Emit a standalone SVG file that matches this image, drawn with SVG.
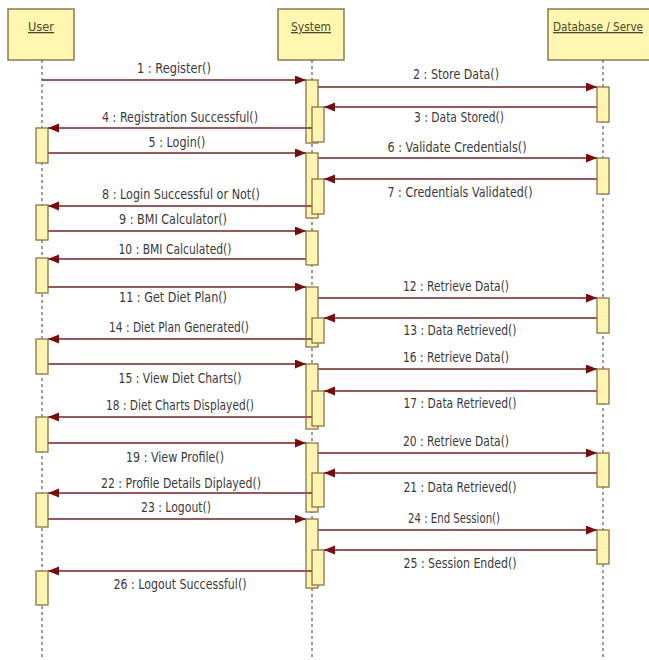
<svg xmlns="http://www.w3.org/2000/svg" width="649" height="660" viewBox="0 0 649 660">
  <style>
    .head { fill: #fff6b0; stroke: #8a7a55; stroke-width: 1.5; }
    .act { fill: #fff5b0; stroke: #8a7445; stroke-width: 1.3; }
    .life { stroke: #3a3a3a; stroke-width: 1; stroke-dasharray: 3 3; fill: none; }
    .msg { stroke: #9a5858; stroke-width: 1.8; fill: none; marker-end: url(#arrow); }
    .lbl { font-family: "DejaVu Sans", "Liberation Sans", sans-serif; font-size: 13.5px; fill: #3a3a3a; text-anchor: middle; }
    .hd { font-family: "DejaVu Sans", "Liberation Sans", sans-serif; font-size: 13px; fill: #4a4a30; text-decoration: underline; }
  </style>
  <defs>
    <marker id="arrow" markerUnits="userSpaceOnUse" markerWidth="12" markerHeight="10" refX="11" refY="4.5" orient="auto">
      <path d="M0,0 L11,4.5 L0,9 Z" fill="#7d0a0a"/>
    </marker>
  </defs>
  <rect width="649" height="660" fill="#ffffff"/>

  <!-- lifeline heads and dashed lifelines -->
  <g id="user">
    <rect class="head" x="8" y="9" width="66" height="51"/>
    <text class="hd" x="41" y="31" text-anchor="middle" textLength="26" lengthAdjust="spacingAndGlyphs">User</text>
    <line class="life" x1="42" y1="60" x2="42" y2="660"/>
  </g>
  <g id="system">
    <rect class="head" x="278" y="9" width="66" height="51"/>
    <text class="hd" x="311" y="31" text-anchor="middle" textLength="40" lengthAdjust="spacingAndGlyphs">System</text>
    <line class="life" x1="312" y1="60" x2="312" y2="660"/>
  </g>
  <g id="database">
    <rect class="head" x="548" y="9" width="110" height="51"/>
    <text class="hd" x="553" y="31" textLength="90" lengthAdjust="spacingAndGlyphs">Database / Serve</text>
    <line class="life" x1="603" y1="60" x2="603" y2="660"/>
  </g>

  <!-- activation bars -->
  <g id="user-activations">
    <rect class="act" x="36" y="128" width="12" height="35"/>
    <rect class="act" x="36" y="205" width="12" height="35"/>
    <rect class="act" x="36" y="258" width="12" height="35"/>
    <rect class="act" x="36" y="339" width="12" height="35"/>
    <rect class="act" x="36" y="417" width="12" height="35"/>
    <rect class="act" x="36" y="493" width="12" height="34"/>
    <rect class="act" x="36" y="571" width="12" height="34"/>
  </g>
  <g id="system-activations">
    <rect class="act" x="306" y="80" width="12" height="63"/>
    <rect class="act" x="312" y="107" width="12" height="35"/>
    <rect class="act" x="306" y="153" width="12" height="65"/>
    <rect class="act" x="312" y="179" width="12" height="35"/>
    <rect class="act" x="306" y="231" width="12" height="34"/>
    <rect class="act" x="306" y="287" width="12" height="60"/>
    <rect class="act" x="312" y="318" width="12" height="25"/>
    <rect class="act" x="306" y="364" width="12" height="65"/>
    <rect class="act" x="312" y="391" width="12" height="35"/>
    <rect class="act" x="306" y="443" width="12" height="69"/>
    <rect class="act" x="312" y="473" width="12" height="34"/>
    <rect class="act" x="306" y="519" width="12" height="69"/>
    <rect class="act" x="312" y="550" width="12" height="35"/>
  </g>
  <g id="database-activations">
    <rect class="act" x="597" y="87" width="12" height="35"/>
    <rect class="act" x="597" y="158" width="12" height="36"/>
    <rect class="act" x="597" y="298" width="12" height="35"/>
    <rect class="act" x="597" y="369" width="12" height="35"/>
    <rect class="act" x="597" y="453" width="12" height="34"/>
    <rect class="act" x="597" y="530" width="12" height="34"/>
  </g>

  <!-- messages -->
  <g id="connectors">
    <line class="msg" x1="42" y1="80" x2="306" y2="80"/>
    <line class="msg" x1="318" y1="87" x2="597" y2="87"/>
    <line class="msg" x1="597" y1="107" x2="324" y2="107"/>
    <line class="msg" x1="312" y1="128" x2="48" y2="128"/>
    <line class="msg" x1="48" y1="153" x2="306" y2="153"/>
    <line class="msg" x1="318" y1="158" x2="597" y2="158"/>
    <line class="msg" x1="597" y1="179" x2="324" y2="179"/>
    <line class="msg" x1="312" y1="206" x2="48" y2="206"/>
    <line class="msg" x1="48" y1="231" x2="306" y2="231"/>
    <line class="msg" x1="306" y1="259" x2="48" y2="259"/>
    <line class="msg" x1="48" y1="287" x2="306" y2="287"/>
    <line class="msg" x1="318" y1="298" x2="597" y2="298"/>
    <line class="msg" x1="597" y1="318" x2="324" y2="318"/>
    <line class="msg" x1="312" y1="339" x2="48" y2="339"/>
    <line class="msg" x1="48" y1="364" x2="306" y2="364"/>
    <line class="msg" x1="318" y1="369" x2="597" y2="369"/>
    <line class="msg" x1="597" y1="391" x2="324" y2="391"/>
    <line class="msg" x1="312" y1="417" x2="48" y2="417"/>
    <line class="msg" x1="48" y1="443" x2="306" y2="443"/>
    <line class="msg" x1="318" y1="453" x2="597" y2="453"/>
    <line class="msg" x1="597" y1="473" x2="324" y2="473"/>
    <line class="msg" x1="312" y1="493" x2="48" y2="493"/>
    <line class="msg" x1="48" y1="519" x2="306" y2="519"/>
    <line class="msg" x1="318" y1="530" x2="597" y2="530"/>
    <line class="msg" x1="597" y1="550" x2="324" y2="550"/>
    <line class="msg" x1="312" y1="571" x2="48" y2="571"/>
  </g>

  <!-- message labels -->
  <g id="labels">
    <text class="lbl" x="174" y="73" textLength="74" lengthAdjust="spacingAndGlyphs">1 : Register()</text>
    <text class="lbl" x="456" y="79" textLength="86" lengthAdjust="spacingAndGlyphs">2 : Store Data()</text>
    <text class="lbl" x="459" y="122" textLength="90" lengthAdjust="spacingAndGlyphs">3 : Data Stored()</text>
    <text class="lbl" x="180" y="122" textLength="156" lengthAdjust="spacingAndGlyphs">4 : Registration Successful()</text>
    <text class="lbl" x="177" y="147" textLength="57" lengthAdjust="spacingAndGlyphs">5 : Login()</text>
    <text class="lbl" x="457" y="152" textLength="139" lengthAdjust="spacingAndGlyphs">6 : Validate Credentials()</text>
    <text class="lbl" x="460" y="197" textLength="145" lengthAdjust="spacingAndGlyphs">7 : Credentials Validated()</text>
    <text class="lbl" x="181" y="199" textLength="158" lengthAdjust="spacingAndGlyphs">8 : Login Successful or Not()</text>
    <text class="lbl" x="173" y="224" textLength="108" lengthAdjust="spacingAndGlyphs">9 : BMI Calculator()</text>
    <text class="lbl" x="175" y="254" textLength="113" lengthAdjust="spacingAndGlyphs">10 : BMI Calculated()</text>
    <text class="lbl" x="173" y="302" textLength="108" lengthAdjust="spacingAndGlyphs">11 : Get Diet Plan()</text>
    <text class="lbl" x="456" y="291" textLength="106" lengthAdjust="spacingAndGlyphs">12 : Retrieve Data()</text>
    <text class="lbl" x="460" y="335" textLength="113" lengthAdjust="spacingAndGlyphs">13 : Data Retrieved()</text>
    <text class="lbl" x="179" y="332" textLength="140" lengthAdjust="spacingAndGlyphs">14 : Diet Plan Generated()</text>
    <text class="lbl" x="456" y="362" textLength="106" lengthAdjust="spacingAndGlyphs">16 : Retrieve Data()</text>
    <text class="lbl" x="180" y="383" textLength="123" lengthAdjust="spacingAndGlyphs">15 : View Diet Charts()</text>
    <text class="lbl" x="180" y="410" textLength="148" lengthAdjust="spacingAndGlyphs">18 : Diet Charts Displayed()</text>
    <text class="lbl" x="460" y="408" textLength="113" lengthAdjust="spacingAndGlyphs">17 : Data Retrieved()</text>
    <text class="lbl" x="456" y="446" textLength="106" lengthAdjust="spacingAndGlyphs">20 : Retrieve Data()</text>
    <text class="lbl" x="175" y="462" textLength="98" lengthAdjust="spacingAndGlyphs">19 : View Profile()</text>
    <text class="lbl" x="181" y="488" textLength="160" lengthAdjust="spacingAndGlyphs">22 : Profile Details Diplayed()</text>
    <text class="lbl" x="460" y="492" textLength="113" lengthAdjust="spacingAndGlyphs">21 : Data Retrieved()</text>
    <text class="lbl" x="176" y="512" textLength="70" lengthAdjust="spacingAndGlyphs">23 : Logout()</text>
    <text class="lbl" x="454" y="523" textLength="92" lengthAdjust="spacingAndGlyphs">24 : End Session()</text>
    <text class="lbl" x="460" y="568" textLength="113" lengthAdjust="spacingAndGlyphs">25 : Session Ended()</text>
    <text class="lbl" x="180" y="589" textLength="133" lengthAdjust="spacingAndGlyphs">26 : Logout Successful()</text>
  </g>
</svg>
